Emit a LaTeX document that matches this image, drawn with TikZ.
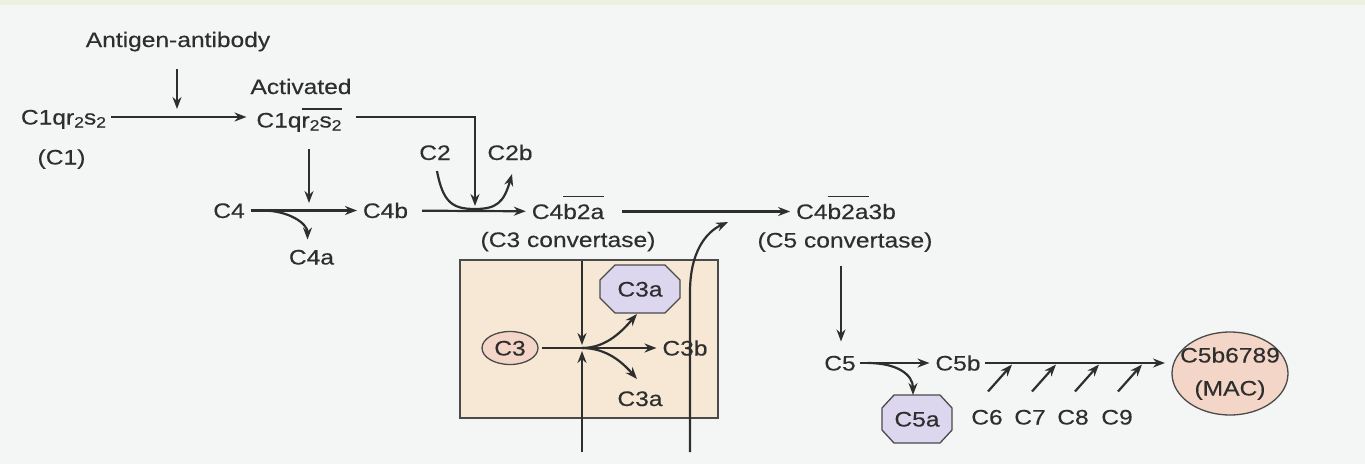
\documentclass[tikz,border=0pt]{standalone}
\usepackage{fontspec}
\setmainfont{Liberation Sans}[FakeStretch=1.17,FakeBold=0.35]
\usetikzlibrary{arrows.meta,shapes.geometric,calc}
\definecolor{ink}{HTML}{2E2E2E}
\definecolor{edge}{HTML}{4A4A4A}
\definecolor{bgc}{HTML}{F4F6F5}
\definecolor{topstrip}{HTML}{ECF1DF}
\definecolor{boxfill}{HTML}{F6E8D5}
\definecolor{pinkfill}{HTML}{F3D6C7}
\definecolor{lavfill}{HTML}{DCD7EF}
\newcommand{\sbs}[1]{\raisebox{-3pt}{\fontsize{15}{15}\selectfont #1}}
\newcommand{\ovl}[1]{\vbox{\hrule height 1.5pt\kern 6.5pt\hbox{#1}}}
% octagon: cx cy w h a b
\newcommand{\octo}[6]{%
  \filldraw[octst] ({#1-#3/2+#5},{#2-#4/2}) -- ({#1+#3/2-#5},{#2-#4/2}) --
  ({#1+#3/2},{#2-#4/2+#6}) -- ({#1+#3/2},{#2+#4/2-#6}) --
  ({#1+#3/2-#5},{#2+#4/2}) -- ({#1-#3/2+#5},{#2+#4/2}) --
  ({#1-#3/2},{#2+#4/2-#6}) -- ({#1-#3/2},{#2-#4/2+#6}) -- cycle;}
\tikzset{
  txt/.style={inner sep=0pt, outer sep=4pt, text height=15pt, text depth=0pt, text=ink},
  arr/.style={draw=ink, line width=2.2pt, -{Stealth[length=12pt,width=9pt]}},
  ln/.style={draw=ink, line width=2.2pt},
  octst/.style={fill=lavfill, draw=edge, line width=1.3pt},
  ell/.style={txt, ellipse, fill=pinkfill, draw=edge, line width=1.3pt},
}
\begin{document}
\begin{tikzpicture}[x=1pt,y=-1pt,font=\fontsize{21}{25}\selectfont]
\fill[bgc] (0,0) rectangle (1365,464);
\fill[topstrip] (0,0) rectangle (1365,5);
\useasboundingbox (0,0) rectangle (1365,464);

% reaction box
\node[fill=boxfill, draw=edge, line width=1.3pt, minimum width=258pt, minimum height=158pt, inner sep=0pt] (box) at (589,339) {};

% octagons (shapes)
\octo{640}{289}{80}{48}{15}{15}
\octo{917}{419}{70}{48}{12}{13}

% text nodes
\node[txt] (ag) at (178,39.5) {Antigen-antibody};
\node[txt] (c1) at (63.5,117) {C1qr\sbs{2}s\sbs{2}};
\node[txt] (c1n) at (61.5,157) {(C1)};
\node[txt] (act) at (301,86.5) {Activated};
\node[txt] (c1a) at (299,120) {C1q\ovl{r\sbs{2}s\sbs{2}}};
\node[txt] (c4) at (229,210.5) {C4};
\node[txt] (c4b) at (385.5,210.5) {C4b};
\node[txt] (c4a) at (311.5,257) {C4a};
\node[txt] (c2) at (435,152.5) {C2};
\node[txt] (c2b) at (510,152.5) {C2b};
\node[txt] (c4b2a) at (568,211.5) {C4\ovl{b2a}};
\node[txt] (c3c) at (568,239.5) {(C3 convertase)};
\node[txt] (c4b2a3b) at (846,211.5) {C4\ovl{b2a}3b};
\node[txt] (c5c) at (845,240) {(C5 convertase)};
\node[ell, minimum width=56pt, minimum height=33pt] (c3) at (510,348) {C3};
\node[txt] (c3b) at (685,348) {C3b};
\node[txt] (c3a) at (640,289) {C3a};
\node[txt] (c3a2) at (640,398.5) {C3a};
\node[txt] (c5) at (840,363) {C5};
\node[txt] (c5b) at (958,363) {C5b};
\node[txt] (c5a) at (917,419) {C5a};
\node[txt] (c6) at (987,417) {C6};
\node[txt] (c7) at (1030,417) {C7};
\node[txt] (c8) at (1073,417) {C8};
\node[txt] (c9) at (1117,417) {C9};
\node[ell, fill=pinkfill, minimum width=116pt, minimum height=83pt] (mac) at (1230,373.5) {};
\node[txt] (mac1) at (1230,355) {C5b6789};
\node[txt] (mac2) at (1230,388) {(MAC)};

% junction coordinates
\coordinate (agj) at (177,109);
\coordinate (j2) at (475,206);
\coordinate (j3) at (309,203);
\coordinate (j2b) at (475,209);
\coordinate (jc) at (582,348);
\coordinate (jtop) at (582,345);
\coordinate (jbot) at (582,351);
\coordinate (b1) at (582,452);
\coordinate (b2) at (690,452);
\coordinate (bend) at (690,292);
\coordinate (j8) at (728,222);
\coordinate (j6) at (637,314);
\coordinate (j7) at (637,379);
\coordinate (j9) at (913,395);

% connectors
\draw[arr] ($(ag.south)+(-1,18)$) -- (agj);
\draw[arr, shorten <=1pt, shorten >=6pt] (c1.east) -- (c1a.west |- c1.east);
\draw[arr, shorten <=10pt] (c1a.east |- c1.east) -| (j2);
\draw[arr] ($(c1a.south)+(10,17.5)$) -- (j3);
\draw[arr, shorten <=2pt, shorten >=2pt] (c4) -- (c4b);
\draw[arr] ($(c4.east)+(14,0)$) .. controls +(26,0) and +(0,-16) .. ($(c4a.north)+(-4,-6)$);
\draw[arr, shorten <=10pt, shorten >=2pt] (c4b) -- (c4b2a);
\draw[arr] ($(c2.south)+(2,7)$) .. controls +(6,32) and +(-22,0) .. (j2b)
  .. controls +(22,0) and +(-8,28) .. ($(c2b.south)+(2,10)$);
\draw[arr, shorten <=14pt, shorten >=2pt] (c4b2a) -- (c4b2a3b);
\draw[arr] ($(c3c.south)+(14,10)$) -- (jtop);
\draw[arr] (b1) -- (jbot);
\draw[ln] (c3) -- (jc);
\draw[arr, shorten >=2pt] (jc) -- (c3b);
\draw[arr] (jc) .. controls +(25,0) and +(-14,16) .. (j6);
\draw[arr] (jc) .. controls +(25,0) and +(-14,-16) .. (j7);
\draw[arr] (b2) -- (bend) .. controls +(0,-40) and +(-22,10) .. (j8);
\draw[arr] ($(c5c.south)+(-4,14)$) -- ($(c5.north)+(1,-10)$);
\draw[arr, shorten >=2pt] (c5) -- (c5b);
\draw[arr] ($(c5.east)+(8,0)$) .. controls +(30,0) and +(0,-20) .. (j9);
\draw[arr, shorten >=3pt] (c5b) -- (mac.west |- c5b);
\draw[arr] ($(c6.north)+(1,-14)$) -- +(24,-27);
\draw[arr] ($(c7.north)+(2,-14)$) -- +(24,-27);
\draw[arr] ($(c8.north)+(2,-14)$) -- +(24,-27);
\draw[arr] ($(c9.north)+(1,-14)$) -- +(24,-27);
\end{tikzpicture}
\end{document}
